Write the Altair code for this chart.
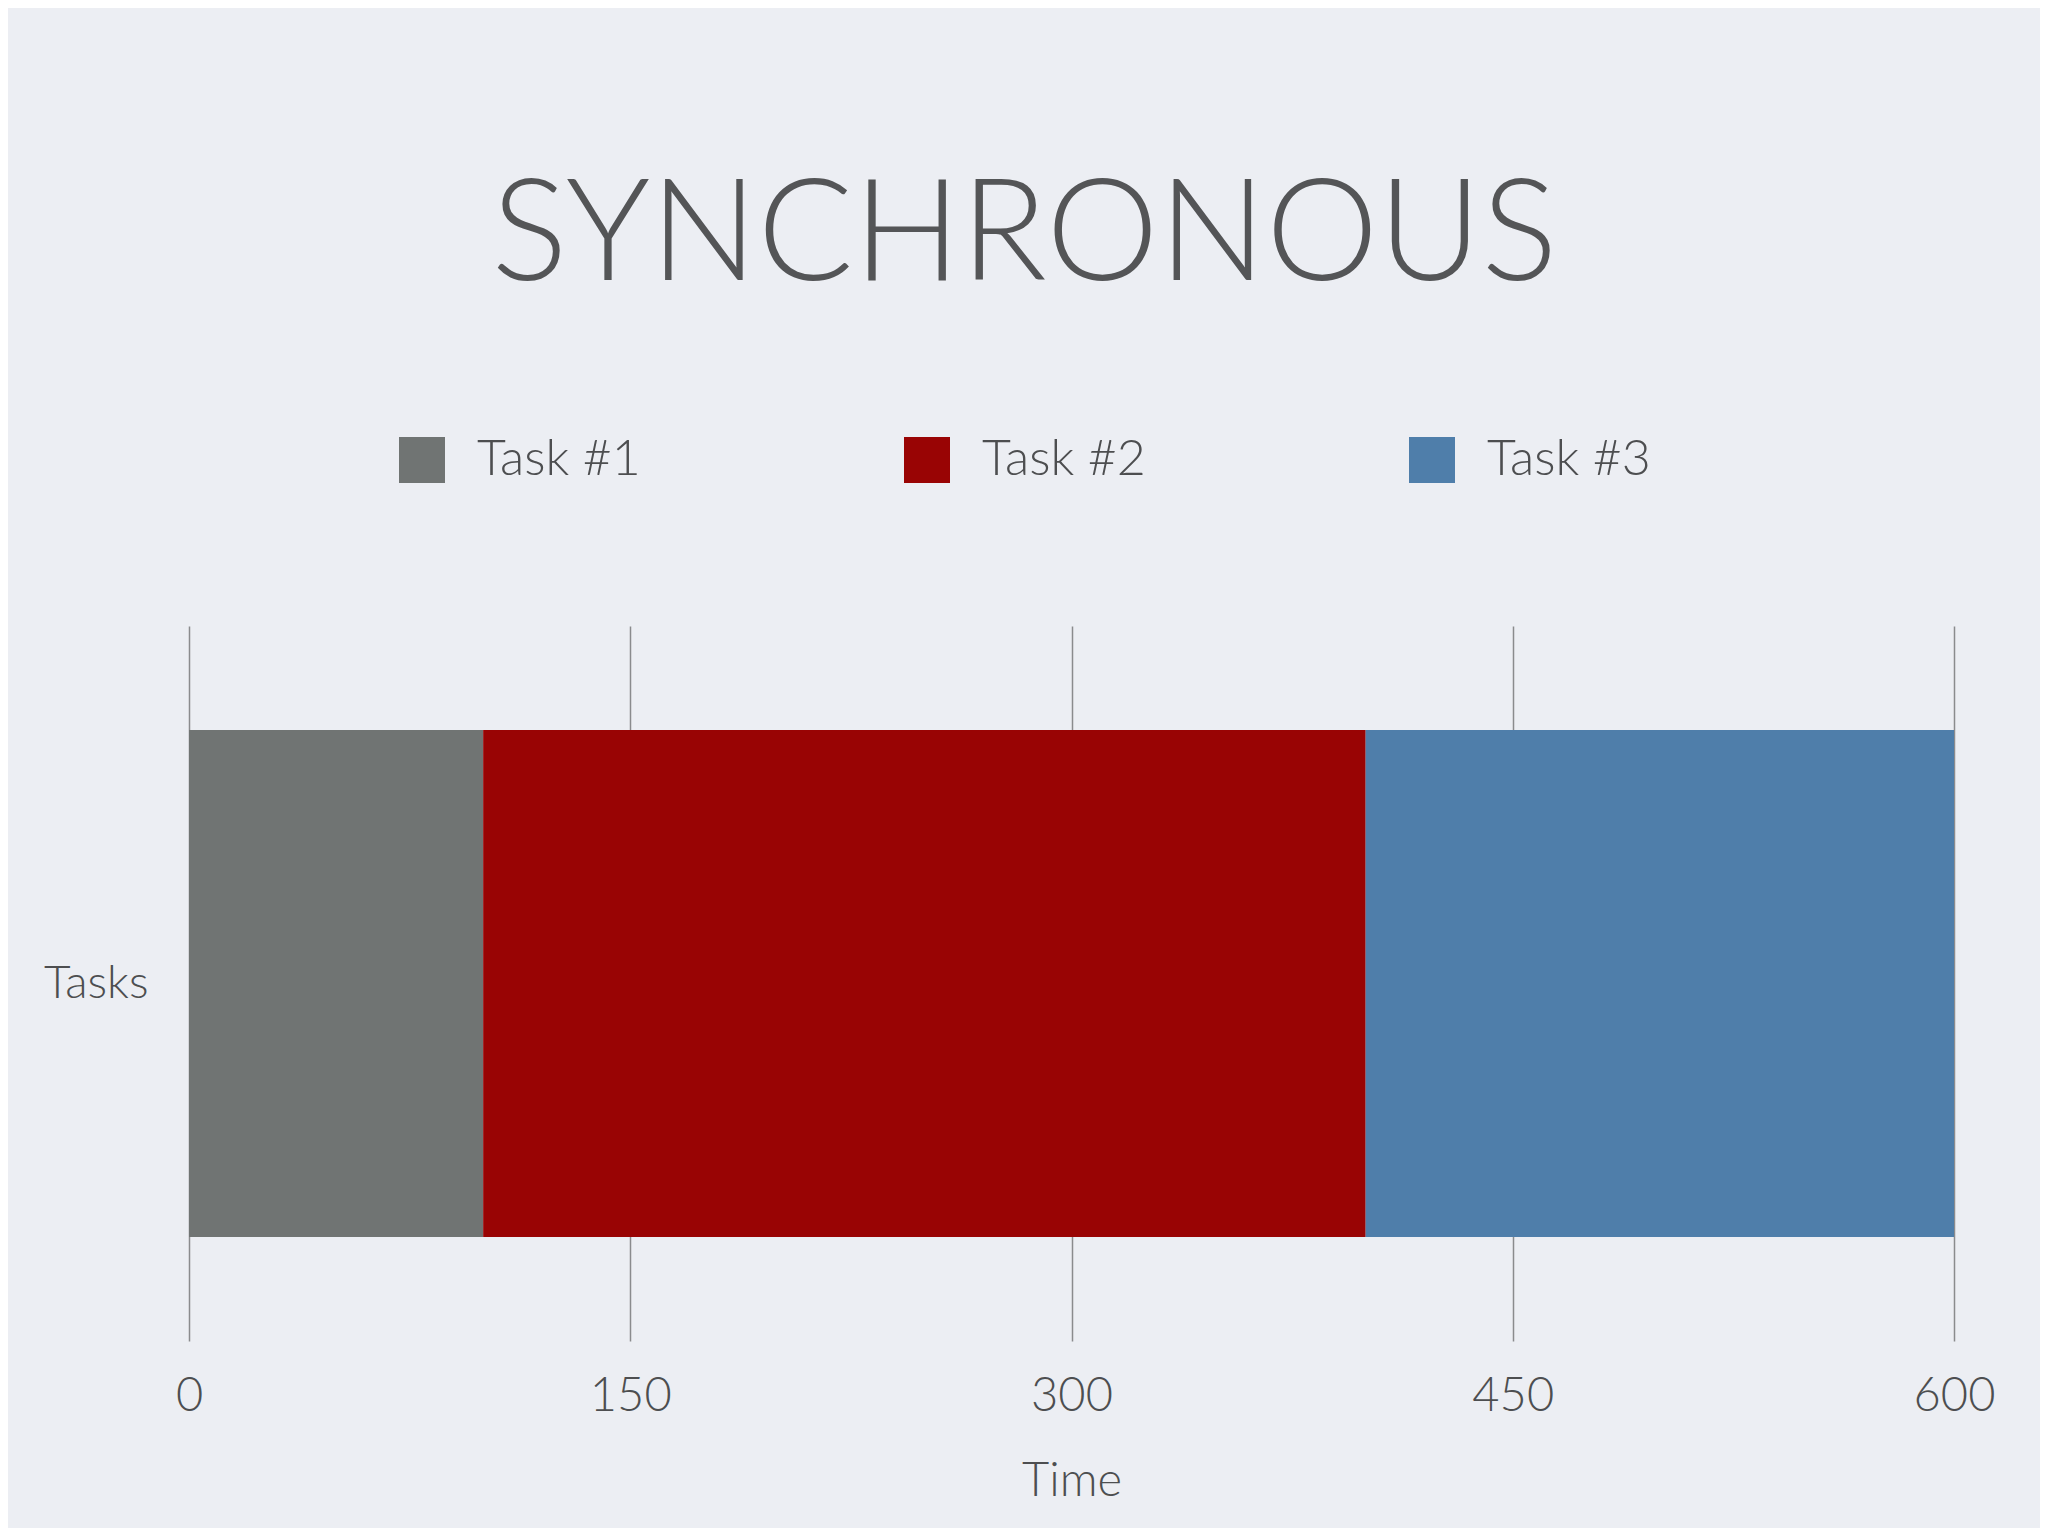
import altair as alt
import pandas as pd

tasks = ["Task #1", "Task #2", "Task #3"]
starts = [0, 100, 400]
ends = [100, 400, 600]
rows = ["Tasks", "Tasks", "Tasks"]
colors = ["#707473", "#990404", "#4f7eaa"]
tick_values = [0, 150, 300, 450, 600]

df = pd.DataFrame({"task": tasks, "start": starts, "end": ends, "row": rows})

FONT = "Lato"
TXT = "#4d4e50"

chart = alt.Chart(df).mark_bar(cornerRadius=0, strokeWidth=0).encode(
    x=alt.X(
        "start:Q",
        scale=alt.Scale(domain=[0, 600], nice=False, zero=True),
        axis=alt.Axis(
            values=tick_values, title="Time", grid=True, gridColor="#8a8b8d",
            gridWidth=1.5, ticks=False, domain=False, labelFontSize=47,
            labelFont=FONT, labelFontWeight=300, labelColor=TXT, labelPadding=32,
            titleFont=FONT, titleFontSize=47, titleFontWeight=300, titleColor=TXT,
            titlePadding=39, labelFlush=False,
        ),
    ),
    x2="end:Q",
    y=alt.Y(
        "row:N",
        scale=alt.Scale(paddingInner=0, paddingOuter=0.205),
        axis=alt.Axis(
            title=None, ticks=False, domain=False, grid=False, labelFontSize=46,
            labelFont=FONT, labelFontWeight=300, labelColor=TXT, labelPadding=41,
        ),
    ),
    color=alt.Color(
        "task:N",
        scale=alt.Scale(domain=tasks, range=colors),
        legend=alt.Legend(
            title=None, orient="none", legendX=208, legendY=-191,
            direction="horizontal", columns=3, columnPadding=261,
            symbolType="square", symbolSize=2116, symbolStrokeWidth=0,
            symbolOpacity=1, labelFontSize=50, labelFont=FONT,
            labelFontWeight=300, labelColor=TXT, labelOffset=30,
            labelLimit=400,
        ),
    ),
).properties(
    width=1765,
    height=715,
    title=alt.TitleParams(
        "SYNCHRONOUS", fontSize=142, font=FONT, fontWeight=300,
        color="#545557", anchor="middle", dx=-47, offset=125,
    ),
    autosize=alt.AutoSizeParams(type="none"),
    padding={"left": 181, "top": 618, "right": 86, "bottom": 187},
).configure(
    background="#eceef3",
).configure_view(stroke=None)

chart.save("out.html", embed_options={"renderer": "svg", "actions": False})
